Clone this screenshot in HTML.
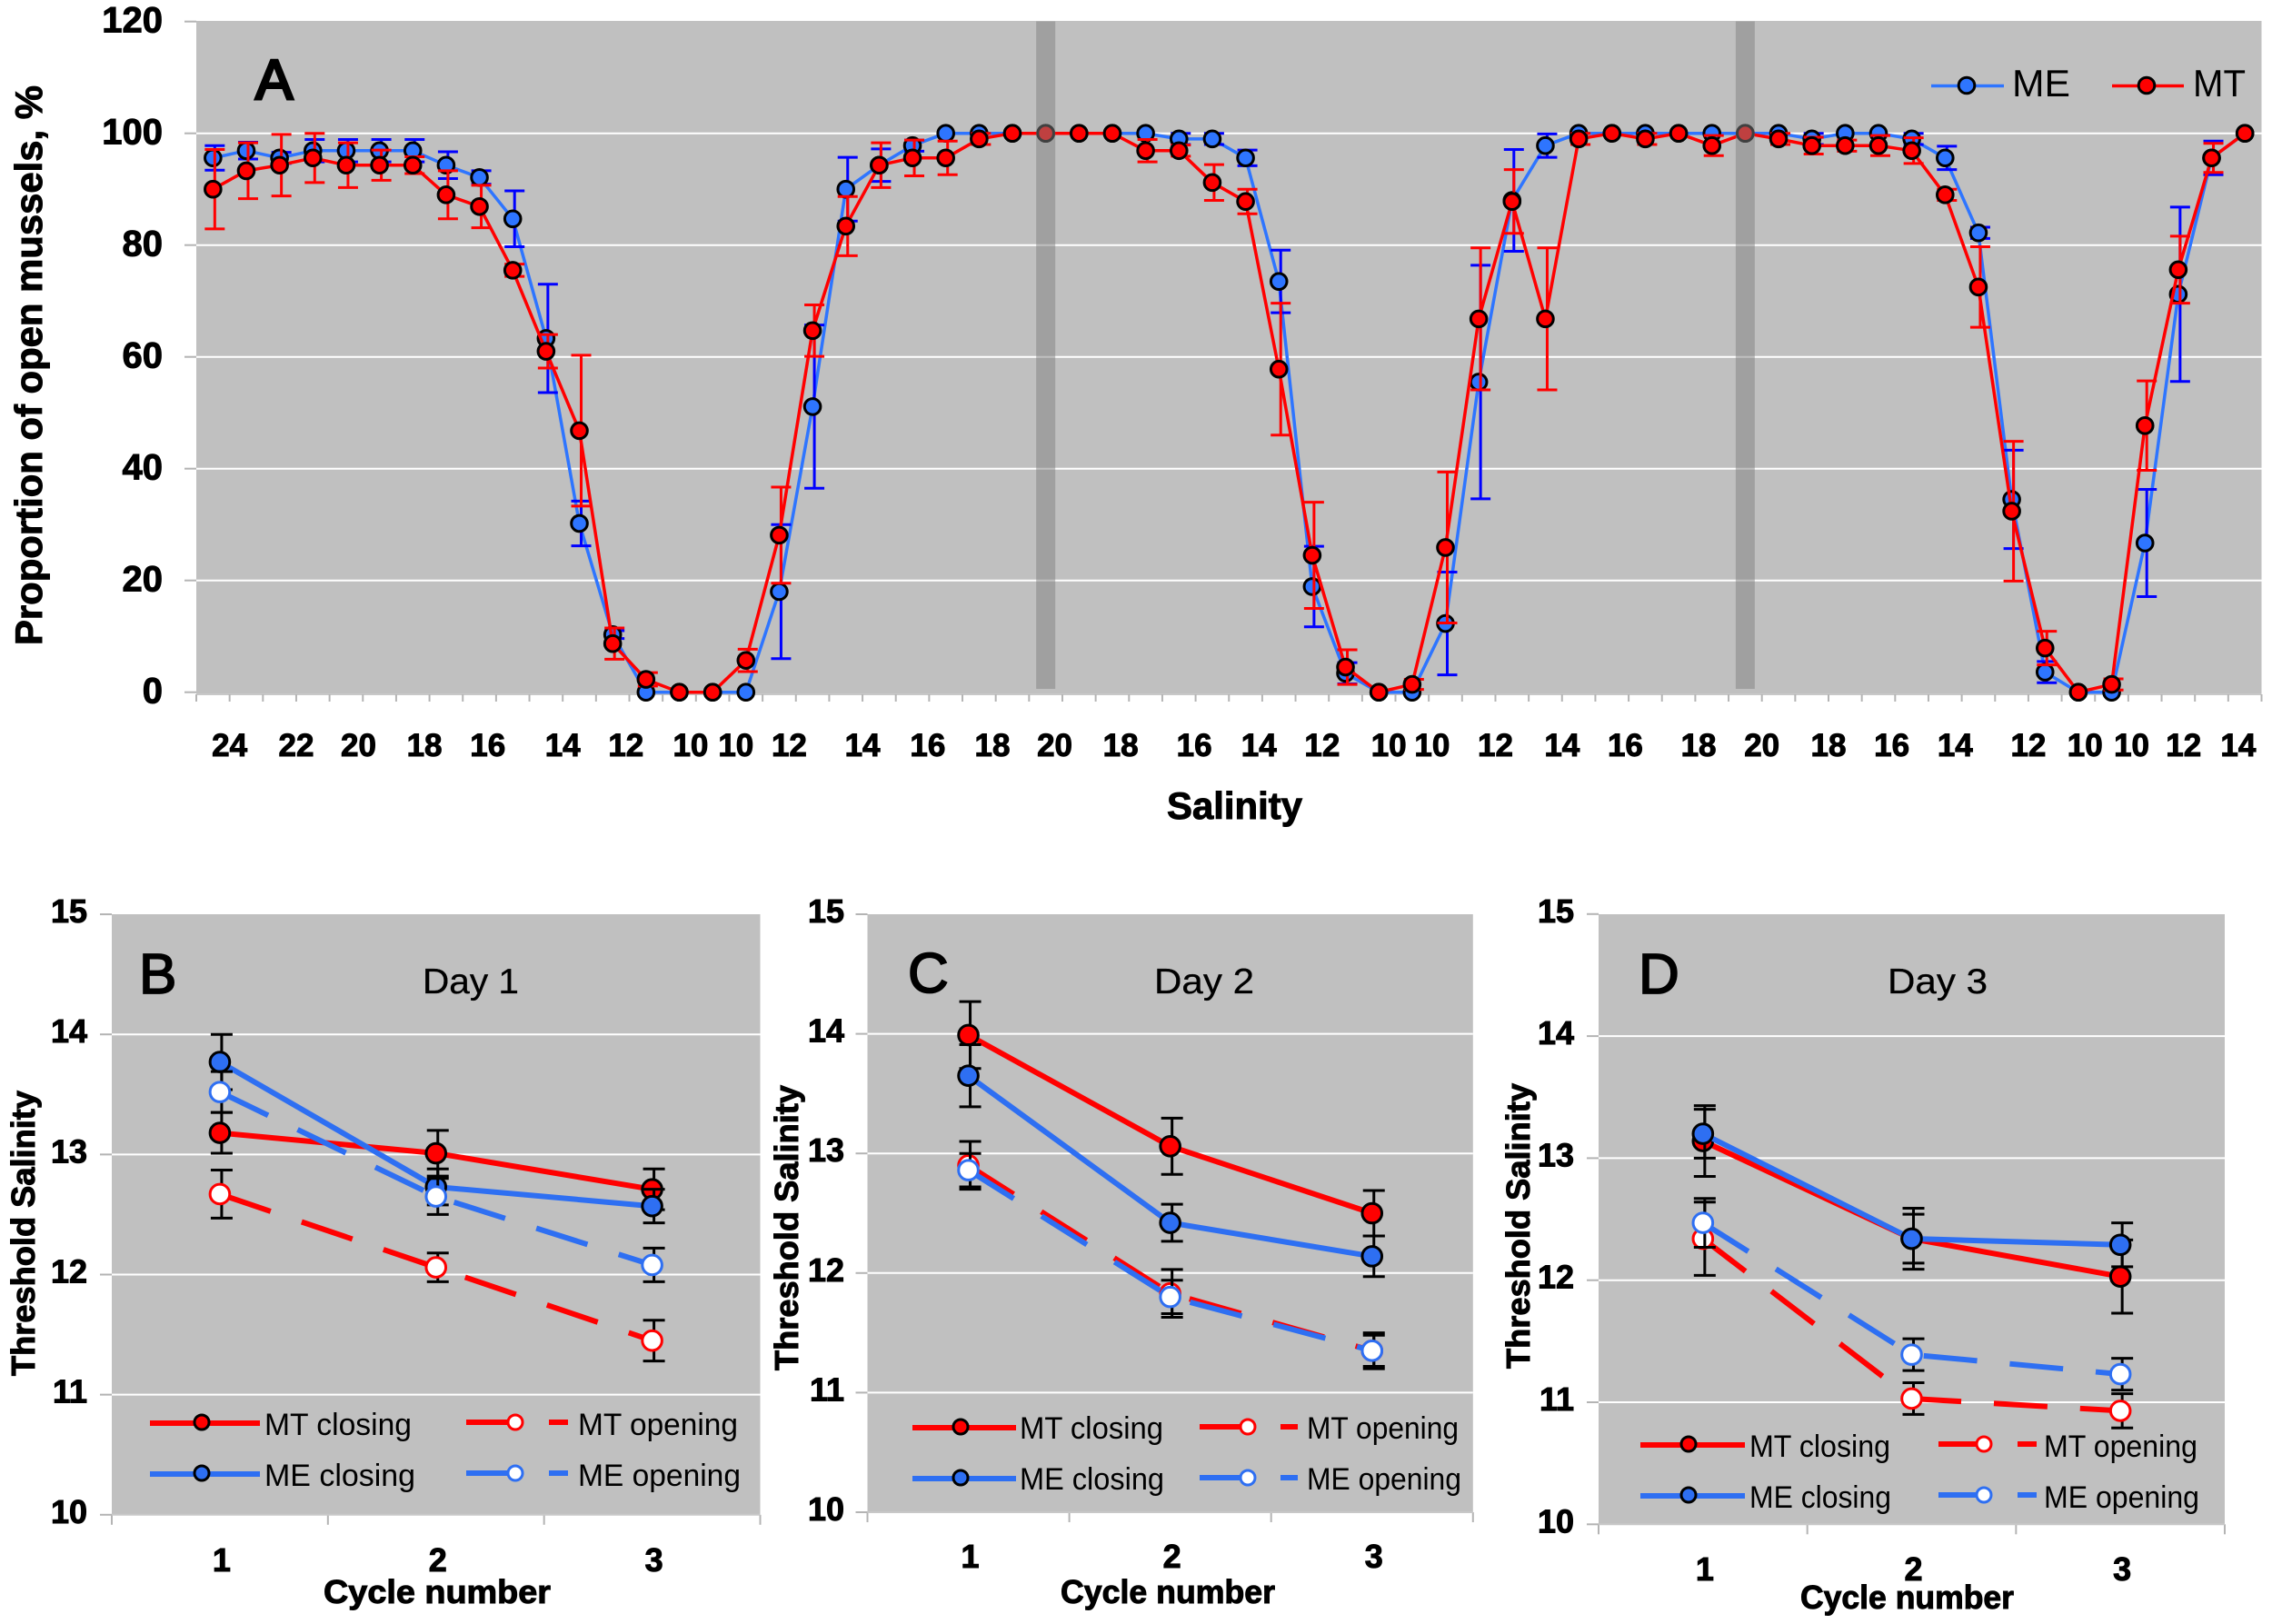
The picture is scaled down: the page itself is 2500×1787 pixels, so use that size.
<!DOCTYPE html>
<html lang="en">
<head>
<meta charset="utf-8">
<title>Proportion of open mussels and threshold salinity</title>
<style>
html,body{margin:0;padding:0;background:#fff;}
svg{display:block;}
text{font-family:"Liberation Sans",Arial,sans-serif;fill:#000;}
.b{font-weight:bold;stroke:#000;stroke-width:1px;}
.letter{stroke:#000;stroke-width:1.8px;font-size:62px;}
.letter-a{stroke-width:3px;}
.leg{font-size:34px;}
.title{font-size:39px;stroke:#000;stroke-width:.3px;}
</style>
</head>
<body>
<svg id="figure" xmlns="http://www.w3.org/2000/svg" width="2500" height="1787" viewBox="0 0 2500 1787">
  <rect x="0" y="0" width="2500" height="1787" fill="#ffffff"/>
  <g id="panelA"></g>
  <g id="panelB"></g>
  <g id="panelC"></g>
  <g id="panelD"></g>

  <g>
    <text class="letter letter-a" x="281" y="109">A</text>
    <text class="b" font-size="42" transform="translate(46,710) rotate(-90)" textLength="616" lengthAdjust="spacingAndGlyphs">Proportion of open mussels, %</text>
    <text class="b" font-size="42" x="1284" y="901" textLength="149" lengthAdjust="spacingAndGlyphs">Salinity</text>
    <g>
      <line x1="2125" y1="94.500" x2="2205" y2="94.500" stroke="#2e75ff" stroke-width="3.500"/>
      <circle cx="2164" cy="94" r="8.800" fill="#2e75ff" stroke="#000" stroke-width="3"/>
      <text font-size="42" x="2214" y="106" textLength="64" lengthAdjust="spacingAndGlyphs">ME</text>
    </g>
    <g>
      <line x1="2324" y1="94.500" x2="2403" y2="94.500" stroke="#ff0000" stroke-width="3.500"/>
      <circle cx="2362" cy="94" r="8.800" fill="#ff0000" stroke="#000" stroke-width="3"/>
      <text font-size="42" x="2413" y="106" textLength="58" lengthAdjust="spacingAndGlyphs">MT</text>
    </g>
  </g>

  <g>
    <text class="letter" x="153" y="1093">B</text>
    <text class="title" x="465" y="1093" textLength="106" lengthAdjust="spacingAndGlyphs">Day 1</text>
    <text class="b" font-size="36" transform="translate(38,1514) rotate(-90)" textLength="314" lengthAdjust="spacingAndGlyphs">Threshold Salinity</text>
    <text class="b" font-size="36" x="356" y="1764" textLength="250" lengthAdjust="spacingAndGlyphs">Cycle number</text>
  </g>
  <g>
    <line x1="165" y1="1566" x2="286" y2="1566" stroke="#ff0000" stroke-width="6"/>
    <circle cx="222" cy="1565" r="8" fill="#ff0000" stroke="#000" stroke-width="3"/>
    <text class="leg" x="291" y="1579" textLength="162" lengthAdjust="spacingAndGlyphs">MT closing</text>
    <line x1="165" y1="1622" x2="286" y2="1622" stroke="#2e6ff2" stroke-width="6"/>
    <circle cx="222" cy="1621" r="8" fill="#2e6ff2" stroke="#000" stroke-width="3"/>
    <text class="leg" x="291" y="1635" textLength="166" lengthAdjust="spacingAndGlyphs">ME closing</text>
    <line x1="513" y1="1565" x2="625" y2="1565" stroke="#ff0000" stroke-width="6" stroke-dasharray="63,28,21,10"/>
    <circle cx="567" cy="1565" r="8" fill="#ffffff" stroke="#ff0000" stroke-width="3"/>
    <text class="leg" x="636" y="1579" textLength="176" lengthAdjust="spacingAndGlyphs">MT opening</text>
    <line x1="513" y1="1621" x2="625" y2="1621" stroke="#2e6ff2" stroke-width="6" stroke-dasharray="63,28,21,10"/>
    <circle cx="567" cy="1621" r="8" fill="#ffffff" stroke="#2e6ff2" stroke-width="3"/>
    <text class="leg" x="636" y="1635" textLength="179" lengthAdjust="spacingAndGlyphs">ME opening</text>
  </g>

  <g>
    <text class="letter" x="999" y="1092">C</text>
    <text class="title" x="1270" y="1093" textLength="110" lengthAdjust="spacingAndGlyphs">Day 2</text>
    <text class="b" font-size="36" transform="translate(878,1508) rotate(-90)" textLength="314" lengthAdjust="spacingAndGlyphs">Threshold Salinity</text>
    <text class="b" font-size="36" x="1167" y="1764" textLength="236" lengthAdjust="spacingAndGlyphs">Cycle number</text>
  </g>
  <g>
    <line x1="1004" y1="1571" x2="1118" y2="1571" stroke="#ff0000" stroke-width="6"/>
    <circle cx="1057" cy="1570" r="8" fill="#ff0000" stroke="#000" stroke-width="3"/>
    <text class="leg" x="1122" y="1583" textLength="158" lengthAdjust="spacingAndGlyphs">MT closing</text>
    <line x1="1004" y1="1627" x2="1118" y2="1627" stroke="#2e6ff2" stroke-width="6"/>
    <circle cx="1057" cy="1626" r="8" fill="#2e6ff2" stroke="#000" stroke-width="3"/>
    <text class="leg" x="1122" y="1639" textLength="159" lengthAdjust="spacingAndGlyphs">ME closing</text>
    <line x1="1320" y1="1570" x2="1428" y2="1570" stroke="#ff0000" stroke-width="6" stroke-dasharray="59,30,19,10"/>
    <circle cx="1373" cy="1570" r="8" fill="#ffffff" stroke="#ff0000" stroke-width="3"/>
    <text class="leg" x="1438" y="1583" textLength="167" lengthAdjust="spacingAndGlyphs">MT opening</text>
    <line x1="1320" y1="1626" x2="1428" y2="1626" stroke="#2e6ff2" stroke-width="6" stroke-dasharray="59,30,19,10"/>
    <circle cx="1373" cy="1626" r="8" fill="#ffffff" stroke="#2e6ff2" stroke-width="3"/>
    <text class="leg" x="1438" y="1639" textLength="170" lengthAdjust="spacingAndGlyphs">ME opening</text>
  </g>

  <g>
    <text class="letter" x="1803" y="1093">D</text>
    <text class="title" x="2077" y="1093" textLength="110" lengthAdjust="spacingAndGlyphs">Day 3</text>
    <text class="b" font-size="36" transform="translate(1683,1506) rotate(-90)" textLength="314" lengthAdjust="spacingAndGlyphs">Threshold Salinity</text>
    <text class="b" font-size="36" x="1981" y="1770" textLength="235" lengthAdjust="spacingAndGlyphs">Cycle number</text>
  </g>
  <g>
    <line x1="1805" y1="1590" x2="1920" y2="1590" stroke="#ff0000" stroke-width="6"/>
    <circle cx="1858" cy="1589" r="8" fill="#ff0000" stroke="#000" stroke-width="3"/>
    <text class="leg" x="1925" y="1603" textLength="155" lengthAdjust="spacingAndGlyphs">MT closing</text>
    <line x1="1805" y1="1646" x2="1920" y2="1646" stroke="#2e6ff2" stroke-width="6"/>
    <circle cx="1858" cy="1645" r="8" fill="#2e6ff2" stroke="#000" stroke-width="3"/>
    <text class="leg" x="1925" y="1659" textLength="156" lengthAdjust="spacingAndGlyphs">ME closing</text>
    <line x1="2133" y1="1589" x2="2241" y2="1589" stroke="#ff0000" stroke-width="6" stroke-dasharray="58,29,21,10"/>
    <circle cx="2183" cy="1589" r="8" fill="#ffffff" stroke="#ff0000" stroke-width="3"/>
    <text class="leg" x="2249" y="1603" textLength="169" lengthAdjust="spacingAndGlyphs">MT opening</text>
    <line x1="2133" y1="1645" x2="2241" y2="1645" stroke="#2e6ff2" stroke-width="6" stroke-dasharray="58,29,21,10"/>
    <circle cx="2183" cy="1645" r="8" fill="#ffffff" stroke="#2e6ff2" stroke-width="3"/>
    <text class="leg" x="2249" y="1659" textLength="171" lengthAdjust="spacingAndGlyphs">ME opening</text>
  </g>
</svg>

<script>
// ---------- Panel A data ----------
const aYTicks = [0, 20, 40, 60, 80, 100, 120];
const aYGrid = [20, 40, 60, 80, 100];
const aMeValues = [
  95.6,96.9,95.6,96.9,96.9,96.9,96.9,94.3,92.1,84.7,
  63.3,30.2,10.3,0,0,0,0,18,51.1,90,
  94.3,97.8,100,100,100,100,100,100,100,99,
  99,95.6,73.5,18.9,3.4,0,0,12.3,55.5,88,
  97.8,100,100,100,100,100,100,100,99,100,
  100,99,95.6,82.2,34.5,3.6,0,0,26.7,71.2,
  95.6,100
];
const aMeErrors = [
  2.2,1.5,1,2,2,2,2,2.4,1.2,5,
  9.7,4,0.7,0,0,0,0,12,14.6,5.7,
  2.9,1,0,0,0,0,0,0,0,1,
  1,1.4,5.6,7.2,1.9,0,0,9.2,20.9,9.1,
  2.1,0,0,0,0,0,0,0,1,0,
  0,1,2.1,1,8.8,1.9,0,0,9.6,15.6,
  3,0
];
const aMtValues = [
  90,93.3,94.3,95.6,94.3,94.3,94.3,89,86.9,75.5,
  61,46.8,8.7,2.3,0,0,5.7,28.1,64.7,83.4,
  94.3,95.6,95.6,99,100,100,100,100,96.9,96.9,
  91.2,87.8,57.8,24.5,4.5,0,1.4,25.9,66.8,87.8,
  66.8,99,100,99,100,97.8,100,99,97.8,97.8,
  97.8,96.9,89,72.5,32.4,7.9,0,1.4,47.7,75.6,
  95.6,100
];
const aMtErrors = [
  7.1,5,5.5,4.4,4,2.7,1.5,4.3,3.8,1.1,
  3,13.5,2.8,1.2,0,0,2,8.6,4.6,5.3,
  4,3.2,3,1,0,0,0,0,2,1,
  3.2,2.2,11.8,9.5,3.1,0,0.9,13.5,12.7,5.7,
  12.7,1,0,1,0,1.8,0,1,1.5,1,
  1.8,2.3,1,7.2,12.5,3,0,1,8,6,
  2.6,0
];
const aDayBreaks = [25, 46];
const aTickLabels = [24,22,20,18,16,14,12,10,10,12,14,16,18,20,18,16,14,12,10,10,12,14,16,18,20,18,16,14,12,10,10,12,14];
const aTickSlots = [1,3,4.87,6.85,8.75,11,12.9,14.84,16.2,17.8,20,21.96,23.9,25.77,27.75,29.96,31.9,33.8,35.8,37.1,39,41,42.9,45.1,47,49,50.9,52.8,55,56.7,58.1,59.66,61.3];

// ---------- Panels B, C, D data ----------
const cycleLabels = [1, 2, 3];
const thresholdTicks = [10, 11, 12, 13, 14, 15];
const thresholdGrid = [11, 12, 13, 14];

const bMtClosing = [13.18, 13.01, 12.71];
const bMtClosingErr = [0.17, 0.19, 0.17];
const bMtOpening = [12.67, 12.06, 11.45];
const bMtOpeningErr = [0.2, 0.12, 0.17];
const bMeClosing = [13.77, 12.73, 12.57];
const bMeClosingErr = [0.23, 0.15, 0.14];
const bMeOpening = [13.52, 12.65, 12.08];
const bMeOpeningErr = [0.17, 0.15, 0.14];

const cMtClosing = [13.99, 13.06, 12.5];
const cMtClosingErr = [0.28, 0.235, 0.19];
const cMtOpening = [12.9, 11.83, 11.35];
const cMtOpeningErr = [0.2, 0.2, 0.15];
const cMeClosing = [13.65, 12.42, 12.14];
const cMeClosingErr = [0.26, 0.155, 0.17];
const cMeOpening = [12.86, 11.8, 11.35];
const cMeOpeningErr = [0.14, 0.14, 0.13];

const dMtClosing = [13.14, 12.34, 12.03];
const dMtClosingErr = [0.29, 0.2, 0.3];
const dMtOpening = [12.34, 11.03, 10.93];
const dMtOpeningErr = [0.3, 0.13, 0.14];
const dMeClosing = [13.2, 12.34, 12.29];
const dMeClosingErr = [0.2, 0.25, 0.18];
const dMeOpening = [12.47, 11.39, 11.23];
const dMeOpeningErr = [0.2, 0.13, 0.13];

// ---------- Drawing ----------
const NS = 'http://www.w3.org/2000/svg';
const RED = '#ff0000';
const BLUE = '#2e75ff';
const ERR_BLUE = '#0000ff';
const PANEL_BLUE = '#2e6ff2';

function mk(parent, tag, attrs) {
  const el = document.createElementNS(NS, tag);
  for (const k in attrs) el.setAttribute(k, attrs[k]);
  parent.appendChild(el);
  return el;
}

function drawPanelA() {
  const g = document.getElementById('panelA');
  const left = 216, right = 2488.5, top = 23, bottom = 764;
  const y0 = 761.7, perUnit = 6.15;
  const slot = (right - left) / aMeValues.length;
  const xAt = i => left + slot * (i + 0.5);
  const yAt = v => y0 - v * perUnit;

  const bg = mk(g, 'rect', {x: left, y: top, width: right - left, height: bottom - top, fill: '#c0c0c0'});
  
  

  aYGrid.forEach(v => {
    const l = mk(g, 'line', {x1: left, x2: right, y1: yAt(v), y2: yAt(v), stroke: '#ffffff', 'stroke-width': 2});
    
    
  });

  aYTicks.forEach(v => {
    const t = mk(g, 'line', {x1: 203, x2: left, y1: yAt(v), y2: yAt(v), stroke: '#b4b4b4', 'stroke-width': 2});
    
    
    const lab = mk(g, 'text', {x: 179, y: yAt(v) + 12, 'text-anchor': 'end', 'font-size': 40, class: 'b'});
    
    
    lab.textContent = v;
  });

  const axis = mk(g, 'line', {x1: left, x2: right, y1: bottom, y2: bottom, stroke: '#c8c8c8', 'stroke-width': 2});
  
  

  for (let i = 0; i <= aMeValues.length; i++) {
    const t = mk(g, 'line', {x1: left + slot * i, x2: left + slot * i, y1: bottom, y2: bottom + 8, stroke: '#b4b4b4', 'stroke-width': 2});
    
    
  }

  aTickLabels.forEach((v, i) => {
    const lab = mk(g, 'text', {x: left + slot * aTickSlots[i], y: 832, 'text-anchor': 'middle', 'font-size': 35, class: 'b'});
    
    
    lab.textContent = v;
  });

  function series(values, errors, lineColor, errColor, fill, key) {
    const sg = mk(g, 'g', {});
    
    
    const pts = values.map((v, i) => xAt(i).toFixed(1) + ',' + yAt(v).toFixed(1)).join(' ');
    const line = mk(sg, 'polyline', {points: pts, fill: 'none', stroke: lineColor, 'stroke-width': 3.5, 'stroke-linejoin': 'round'});
    
    
    values.forEach((v, i) => {
      const e = errors[i];
      if (!e) return;
      const x = xAt(i) + 2;
      const hi = Math.min(yAt(v + e), yAt(0));
      const lo = Math.min(yAt(v - e), yAt(0));
      const bar = mk(sg, 'path', {
        d: 'M' + x + ' ' + hi + 'V' + lo + 'M' + (x - 11) + ' ' + hi + 'H' + (x + 11) + 'M' + (x - 11) + ' ' + lo + 'H' + (x + 11),
        fill: 'none', stroke: errColor, 'stroke-width': 3
      });
      
      
    });
    values.forEach((v, i) => {
      const m = mk(sg, 'circle', {cx: xAt(i), cy: yAt(v), r: 8.8, fill: fill, stroke: '#000', 'stroke-width': 3});
      
      
    });
  }
  series(aMeValues, aMeErrors, BLUE, ERR_BLUE, BLUE, 'me');
  series(aMtValues, aMtErrors, RED, RED, RED, 'mt');

  aDayBreaks.forEach(i => {
    const b = mk(g, 'rect', {x: xAt(i) - 10.5, y: 23.5, width: 21, height: 734.5, fill: '#808080', opacity: 0.5});
    
    
  });
}

function drawSmallPanel(id, key, geo, series) {
  const g = document.getElementById(id);
  const yAt = v => geo.y10 - (v - 10) * geo.perUnit;
  const band = (geo.right - geo.left) / cycleLabels.length;
  const xAt = i => geo.left + band * (i + 0.5);

  const bg = mk(g, 'rect', {x: geo.left, y: geo.top, width: geo.right - geo.left, height: geo.y10 - geo.top, fill: '#c0c0c0'});
  
  

  thresholdGrid.forEach(v => {
    const l = mk(g, 'line', {x1: geo.left, x2: geo.right, y1: yAt(v), y2: yAt(v), stroke: '#ffffff', 'stroke-width': 2});
    
    
  });

  thresholdTicks.forEach(v => {
    const t = mk(g, 'line', {x1: geo.left - 13, x2: geo.left, y1: yAt(v), y2: yAt(v), stroke: '#b4b4b4', 'stroke-width': 2});
    
    
    const lab = mk(g, 'text', {x: geo.labelRight, y: yAt(v) + 9, 'text-anchor': 'end', 'font-size': 36, class: 'b'});
    
    
    lab.textContent = v;
  });

  for (let i = 0; i <= cycleLabels.length; i++) {
    const x = geo.left + band * i;
    const t = mk(g, 'line', {x1: x, x2: x, y1: geo.y10, y2: geo.y10 + 11, stroke: '#b4b4b4', 'stroke-width': 2});
    
    
  }
  const axis = mk(g, 'line', {x1: geo.left, x2: geo.right, y1: geo.y10, y2: geo.y10, stroke: '#c8c8c8', 'stroke-width': 2});
  
  

  cycleLabels.forEach((c, i) => {
    const lab = mk(g, 'text', {x: xAt(i) + 2, y: geo.xLabelY, 'text-anchor': 'middle', 'font-size': 36, class: 'b'});
    
    
    lab.textContent = c;
  });

  series.forEach(s => {
    const sg = mk(g, 'g', {});
    
    
    const pts = s.values.map((v, i) => xAt(i).toFixed(1) + ',' + yAt(v).toFixed(1)).join(' ');
    const attrs = {points: pts, fill: 'none', stroke: s.color, 'stroke-width': 6, 'stroke-linejoin': 'round'};
    if (s.open) attrs['stroke-dasharray'] = '59,36';
    const line = mk(sg, 'polyline', attrs);
    
    
    s.values.forEach((v, i) => {
      const x = xAt(i) + 2;
      const hi = yAt(v + s.errors[i]);
      const lo = yAt(v - s.errors[i]);
      const bar = mk(sg, 'path', {
        d: 'M' + x + ' ' + hi + 'V' + lo + 'M' + (x - 12) + ' ' + hi + 'H' + (x + 12) + 'M' + (x - 12) + ' ' + lo + 'H' + (x + 12),
        fill: 'none', stroke: '#000', 'stroke-width': 3
      });
      
      
    });
    s.values.forEach((v, i) => {
      const m = mk(sg, 'circle', {
        cx: xAt(i), cy: yAt(v), r: 10.8,
        fill: s.open ? '#ffffff' : s.color,
        stroke: s.open ? s.color : '#000',
        'stroke-width': 3
      });
      
      
    });
  });
}

drawPanelA();

drawSmallPanel('panelB', 'b',
  {left: 123, right: 836.5, top: 1006, y10: 1666.8, perUnit: 132.15, labelRight: 96, xLabelY: 1729},
  [
    {name: 'mt-closing', values: bMtClosing, errors: bMtClosingErr, color: RED, open: false},
    {name: 'mt-opening', values: bMtOpening, errors: bMtOpeningErr, color: RED, open: true},
    {name: 'me-closing', values: bMeClosing, errors: bMeClosingErr, color: PANEL_BLUE, open: false},
    {name: 'me-opening', values: bMeOpening, errors: bMeOpeningErr, color: PANEL_BLUE, open: true}
  ]);

drawSmallPanel('panelC', 'c',
  {left: 954.5, right: 1620.8, top: 1006, y10: 1664, perUnit: 131.6, labelRight: 929, xLabelY: 1725},
  [
    {name: 'mt-closing', values: cMtClosing, errors: cMtClosingErr, color: RED, open: false},
    {name: 'mt-opening', values: cMtOpening, errors: cMtOpeningErr, color: RED, open: true},
    {name: 'me-closing', values: cMeClosing, errors: cMeClosingErr, color: PANEL_BLUE, open: false},
    {name: 'me-opening', values: cMeOpening, errors: cMeOpeningErr, color: PANEL_BLUE, open: true}
  ]);

drawSmallPanel('panelD', 'd',
  {left: 1759, right: 2448, top: 1006, y10: 1677.3, perUnit: 134.3, labelRight: 1732, xLabelY: 1739},
  [
    {name: 'mt-closing', values: dMtClosing, errors: dMtClosingErr, color: RED, open: false},
    {name: 'mt-opening', values: dMtOpening, errors: dMtOpeningErr, color: RED, open: true},
    {name: 'me-closing', values: dMeClosing, errors: dMeClosingErr, color: PANEL_BLUE, open: false},
    {name: 'me-opening', values: dMeOpening, errors: dMeOpeningErr, color: PANEL_BLUE, open: true}
  ]);

// Keep labels and legends above the plot areas.
const svgRoot = document.getElementById('figure');
['panelA', 'panelB', 'panelC', 'panelD'].reverse().forEach(id => {
  svgRoot.insertBefore(document.getElementById(id), svgRoot.children[1]);
});
</script>
</body>
</html>
